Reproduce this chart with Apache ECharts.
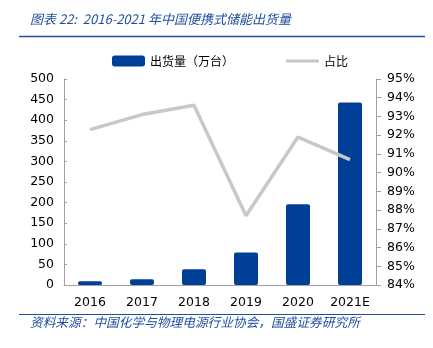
<!DOCTYPE html>
<html><head><meta charset="utf-8">
<script src="https://cdn.jsdelivr.net/npm/echarts@6/dist/echarts.min.js"></script>
<style>html,body{margin:0;padding:0;background:#fff}#c{width:433px;height:348px}</style>
</head><body><div id="c"></div>
<script>
const categories = ['2016','2017','2018','2019','2020','2021E'];
const shipments = [9, 14, 38, 79, 196, 443];
const shares = [92.3, 93.1, 93.6, 87.7, 91.9, 90.7];
const leftTicks = {min: 0, max: 500, interval: 50};
const rightTicks = {min: 84, max: 95, interval: 1};
const titleText = '图表 22:  2016-2021 年中国便携式储能出货量';
const sourceText = '资料来源：中国化学与物理电源行业协会，国盛证券研究所';
const barName = '出货量（万台）';
const lineName = '占比';

const chart = echarts.init(document.getElementById('c'));
const lab = {color: '#000', fontSize: 12.5, fontFamily: 'DejaVu Sans'};
const legText = {fontSize: 12, color: '#000', fontFamily: 'Noto Sans CJK SC'};
chart.setOption({
  animation: false,
  grid: {left: 64, right: 57, top: 79, bottom: 63},
  legend: [{
    top: 50, left: 107, itemWidth: 33, itemHeight: 11, itemGap: 5,
    textStyle: legText,
    data: [{name: barName, icon: 'roundRect'}]
  }, {
    top: 50, left: 281, itemWidth: 33, itemHeight: 11,
    textStyle: legText,
    data: [{name: lineName, icon: 'path://M0,4 L33,4 L33,7 L0,7 Z', itemStyle: {color: '#c8c8c8'}}]
  }],
  xAxis: {
    type: 'category', data: categories,
    axisLine: {lineStyle: {color: '#a0a0a0'}},
    axisTick: {inside: true, length: 5, lineStyle: {color: '#a0a0a0'}},
    axisLabel: Object.assign({margin: 11}, lab)
  },
  yAxis: [{
    type: 'value', min: leftTicks.min, max: leftTicks.max, interval: leftTicks.interval,
    axisLine: {show: true, lineStyle: {color: '#a0a0a0'}},
    axisTick: {show: true, inside: true, length: 3, lineStyle: {color: '#a0a0a0'}},
    splitLine: {show: false},
    axisLabel: Object.assign({margin: 10}, lab)
  }, {
    type: 'value', min: rightTicks.min, max: rightTicks.max, interval: rightTicks.interval,
    position: 'right',
    axisLine: {show: true, lineStyle: {color: '#a0a0a0'}},
    axisTick: {show: true, length: 5, lineStyle: {color: '#a0a0a0'}},
    splitLine: {show: false},
    axisLabel: Object.assign({margin: 11, formatter: v => v + '%'}, lab)
  }],
  series: [{
    name: barName, type: 'bar', data: shipments, barWidth: 24,
    itemStyle: {color: '#003f98', borderRadius: 2}
  }, {
    name: lineName, type: 'line', yAxisIndex: 1, data: shares,
    symbol: 'none', lineStyle: {color: '#c8c8c8', width: 3.5},
    itemStyle: {color: '#c8c8c8'}
  }],
  graphic: [
    {type: 'text', left: 30, top: 13, style: {text: titleText, fill: '#1f4e9e', font: 'italic 13px "Noto Sans CJK SC"'}},
    {type: 'line', shape: {x1: 19, y1: 36.5, x2: 425, y2: 36.5}, style: {stroke: '#1f4e9e', lineWidth: 1.5}},
    {type: 'line', shape: {x1: 19, y1: 314.5, x2: 425, y2: 314.5}, style: {stroke: '#1f4e9e', lineWidth: 1}},
    {type: 'text', left: 30, top: 316, style: {text: sourceText, fill: '#1f4e9e', font: 'italic 12.7px "Noto Sans CJK SC"'}}
  ]
});
</script></body></html>
